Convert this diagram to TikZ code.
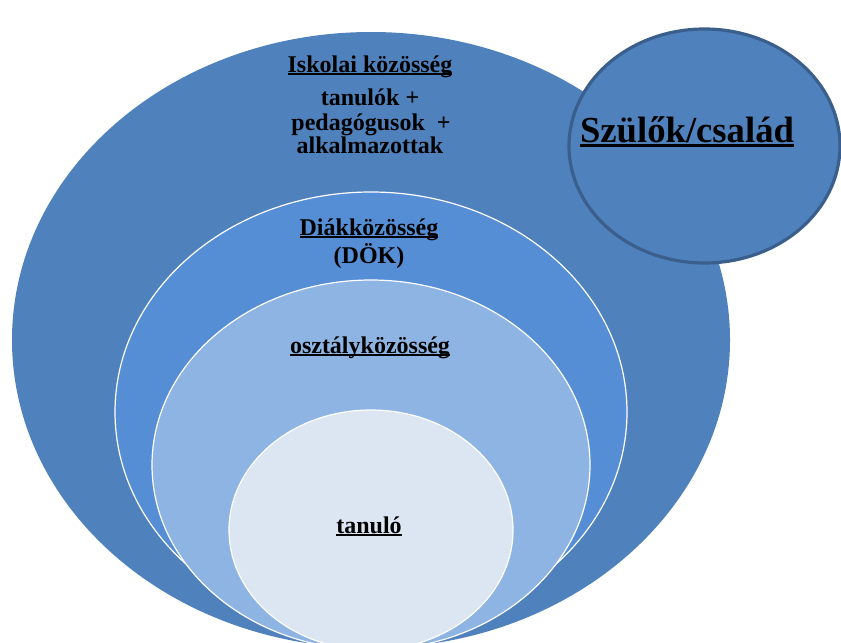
\documentclass[tikz,border=0pt]{standalone}
\usepackage{fontspec}
\setmainfont{Liberation Serif}
\definecolor{cA}{HTML}{4F81BD}
\definecolor{cB}{HTML}{558ED5}
\definecolor{cC}{HTML}{8EB4E3}
\definecolor{cD}{HTML}{DCE6F2}
\definecolor{cEdge}{HTML}{3A5F8C}
\newcommand\myul[3]{\setbox0=\hbox{#3}\rlap{\rule[#1]{\wd0}{#2}}\box0}
\tikzset{
  lbl/.style={anchor=base, inner sep=0pt, font=\bfseries\fontsize{18}{20}\selectfont, text=black},
  biglbl/.style={anchor=base, inner sep=0pt, font=\bfseries\fontsize{27.5}{30}\selectfont, text=black},
  ring/.style={draw=white, line width=0.9pt}
}
\begin{document}
\begin{tikzpicture}[x=0.75pt,y=-0.75pt]
\useasboundingbox (0,0) rectangle (841,642);
\clip (0,0) rectangle (841,642);
% nested ellipses
\fill[cA] (371,340) ellipse [x radius=359, y radius=308];
\filldraw[cB, ring] (371,412) ellipse [x radius=256, y radius=220];
\filldraw[cC, ring] (371,465) ellipse [x radius=219, y radius=185];
\filldraw[cD, ring] (371,530) ellipse [x radius=142, y radius=120];
% parents circle
\filldraw[fill=cA, draw=cEdge, line width=2.4pt] (704.5,146) ellipse [x radius=135.5, y radius=117];
% texts
\node[lbl] (isk) at (370,72) {\myul{-2.2pt}{1.3pt}{Iskolai közösség}};
\node[lbl] (t1) at (370,105) {tanulók +};
\node[lbl] (t2) at (371,130) {pedagógusok \ +};
\node[lbl] (t3) at (370,153) {alkalmazottak};
\node[lbl] (diak) at (369,235) {\myul{-2.2pt}{1.3pt}{Diákközösség}};
\node[lbl] (dok) at (369,263) {(DÖK)};
\node[lbl] (oszt) at (370,353) {\myul{-2.2pt}{1.3pt}{osztályközösség}};
\node[lbl] (tan) at (369,533) {\myul{-2.2pt}{1.3pt}{tanuló}};
\node[biglbl] (szulo) at (687,142) {\myul{-4pt}{2.4pt}{Szülők/család}};
\end{tikzpicture}
\end{document}
